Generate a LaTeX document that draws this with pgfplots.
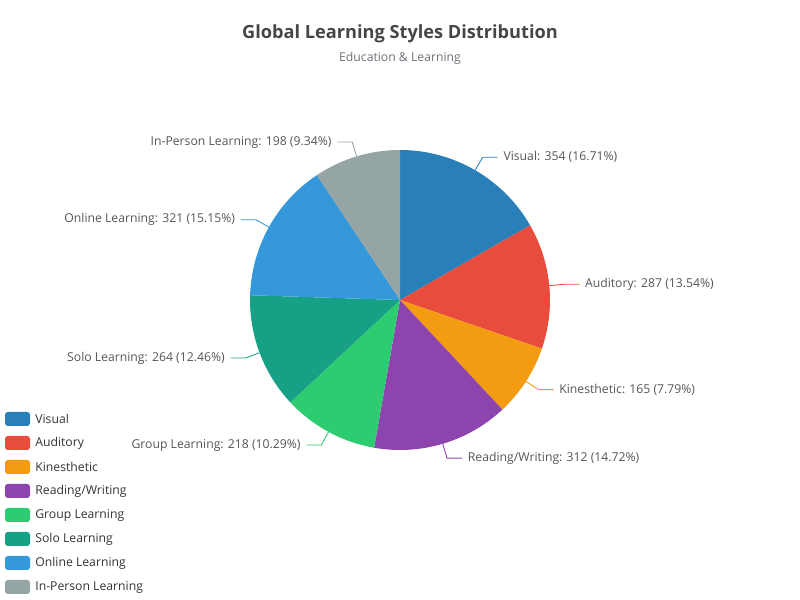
\documentclass[border=0pt]{standalone}
\usepackage{pgfplots}
\pgfplotsset{compat=1.18}
\usepackage{pgfplotstable}
\usepackage{fontspec}
\setmainfont{Open Sans}

\definecolor{cVisual}{HTML}{2980B9}
\definecolor{cAuditory}{HTML}{E74C3C}
\definecolor{cKin}{HTML}{F39C12}
\definecolor{cRead}{HTML}{8E44AD}
\definecolor{cGroup}{HTML}{2ECC71}
\definecolor{cSolo}{HTML}{16A085}
\definecolor{cOnline}{HTML}{3498DB}
\definecolor{cPerson}{HTML}{95A5A6}
\definecolor{titlegray}{HTML}{464646}
\definecolor{subgray}{HTML}{6E7079}
\definecolor{labelgray}{HTML}{555555}
\definecolor{leggray}{HTML}{333333}

% 1 cm = 50 px of the reference
\newcommand\lbl{\fontsize{6.95}{8.3}\selectfont}

\pgfplotstableread[col sep=comma]{
name,value,col
Visual,354,cVisual
Auditory,287,cAuditory
Kinesthetic,165,cKin
Reading/Writing,312,cRead
Group Learning,218,cGroup
Solo Learning,264,cSolo
Online Learning,321,cOnline
In-Person Learning,198,cPerson
}\piedata

\def\total{0}
\pgfplotsforeachungrouped \i in {0,...,7}{%
  \pgfplotstablegetelem{\i}{value}\of\piedata
  \xdef\total{\fpeval{\total+\pgfplotsretval}}%
}
\def\cum{0}
\pgfplotsforeachungrouped \i in {0,...,7}{%
  \pgfplotstablegetelem{\i}{value}\of\piedata \let\v\pgfplotsretval
  \pgfplotstablegetelem{\i}{name}\of\piedata \let\nm\pgfplotsretval
  \pgfplotstablegetelem{\i}{col}\of\piedata \let\cl\pgfplotsretval
  \edef\sa{\fpeval{90-360*\cum/\total}}%
  \xdef\cum{\fpeval{\cum+\v}}%
  \edef\ea{\fpeval{90-360*\cum/\total}}%
  \edef\ma{\fpeval{(\sa+\ea)/2}}%
  \edef\side{\fpeval{cosd(\ma)>=0 ? 1 : -1}}%
  \expandafter\xdef\csname pieS\i\endcsname{\sa}%
  \expandafter\xdef\csname pieE\i\endcsname{\ea}%
  \expandafter\xdef\csname pieC\i\endcsname{\cl}%
  \expandafter\xdef\csname pieAx\i\endcsname{\fpeval{3*cosd(\ma)}}%
  \expandafter\xdef\csname pieAy\i\endcsname{\fpeval{3*sind(\ma)}}%
  \expandafter\xdef\csname pieBx\i\endcsname{\fpeval{3.3*cosd(\ma)}}%
  \expandafter\xdef\csname pieBy\i\endcsname{\fpeval{3.3*sind(\ma)}}%
  \expandafter\xdef\csname pieDx\i\endcsname{\fpeval{3.3*cosd(\ma)+0.3*\side}}%
  \expandafter\xdef\csname pieTx\i\endcsname{\fpeval{3.3*cosd(\ma)+0.41*\side}}%
  \expandafter\xdef\csname pieAn\i\endcsname{\ifnum\side>0 west\else east\fi}%
  \expandafter\xdef\csname pieL\i\endcsname{\nm: \v\space(\fpeval{round(100*\v/\total,2)}\%)}%
  \expandafter\xdef\csname pieN\i\endcsname{\nm}%
}
\newcommand\pv[2]{\csname pie#1#2\endcsname}

\begin{document}
\begin{tikzpicture}
\begin{axis}[
    x=1cm, y=1cm,
    xmin=-8, xmax=8, ymin=-6, ymax=6,
    hide axis, clip=false,
]
\path (axis cs:-8,-6) rectangle (axis cs:8,6);

% slices
\pgfplotsinvokeforeach{0,...,7}{%
  \fill[fill=\pv{C}{#1}] (axis cs:0,0)
    -- (axis cs:{3*cos(\pv{S}{#1})},{3*sin(\pv{S}{#1})})
    arc[start angle=\pv{S}{#1}, end angle=\pv{E}{#1}, radius=3cm] -- cycle;
}
% leader lines and labels
\pgfplotsinvokeforeach{0,...,7}{%
  \draw[draw=\pv{C}{#1}, line width=0.5pt]
    (axis cs:\pv{Ax}{#1},\pv{Ay}{#1}) -- (axis cs:\pv{Bx}{#1},\pv{By}{#1})
    -- (axis cs:\pv{Dx}{#1},\pv{By}{#1});
  \node[anchor=\pv{An}{#1}, inner sep=0pt, text=labelgray, font=\lbl]
    at (axis cs:\pv{Tx}{#1},\pv{By}{#1}) {\pv{L}{#1}};
}
% legend
\pgfplotsinvokeforeach{0,...,7}{%
  \fill[fill=\pv{C}{#1}, rounded corners=1.6pt]
    (axis cs:-7.9,{-2.38-0.48*#1-0.14}) rectangle (axis cs:-7.4,{-2.38-0.48*#1+0.14});
  \node[anchor=west, inner sep=0pt, text=leggray, font=\lbl]
    at (axis cs:-7.3,{-2.38-0.48*#1}) {\pv{N}{#1}};
}

\node[text=titlegray, font=\fontsize{10.35}{12}\selectfont\bfseries] at (axis cs:0,5.33)
  {Global Learning Styles Distribution};
\node[text=subgray, font=\lbl] at (axis cs:0,4.84) {Education \& Learning};
\end{axis}
\end{tikzpicture}
\end{document}
